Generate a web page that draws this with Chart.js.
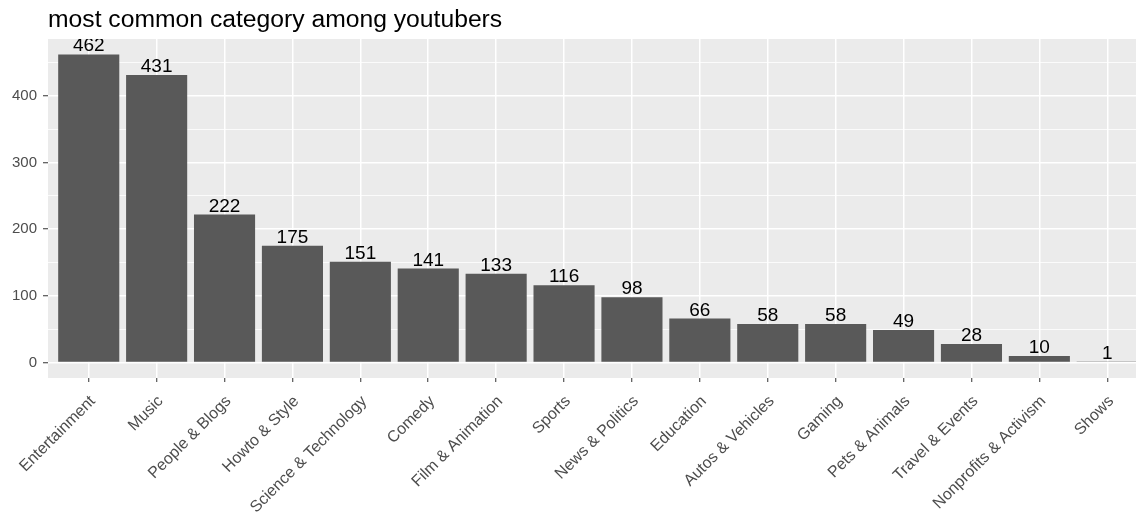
<!DOCTYPE html>
<html lang="en">
<head>
    <meta charset="UTF-8">
    <title>most common category among youtubers</title>
    <script src="https://cdn.jsdelivr.net/npm/chart.js"></script>
    <style>
        html, body {
            margin: 0;
            padding: 0;
            background: #ffffff;
            overflow: hidden;
        }
        #wrap {
            width: 1148px;
            height: 520px;
        }
    </style>
</head>
<body>
    <div id="wrap">
        <canvas id="categoryChart" width="1148" height="520"></canvas>
    </div>

    <script>
        // data
        const categories = [
            'Entertainment', 'Music', 'People & Blogs', 'Howto & Style',
            'Science & Technology', 'Comedy', 'Film & Animation', 'Sports',
            'News & Politics', 'Education', 'Autos & Vehicles', 'Gaming',
            'Pets & Animals', 'Travel & Events', 'Nonprofits & Activism', 'Shows'
        ];
        const counts = [462, 431, 222, 175, 151, 141, 133, 116, 98, 66, 58, 58, 49, 28, 10, 1];
        const yTicks = [0, 100, 200, 300, 400];
        const yMinorTicks = [50, 150, 250, 350, 450];
        const chartTitle = 'most common category among youtubers';

        const FONT = '"Liberation Sans", Arial, sans-serif';

        // grey panel like ggplot's theme_grey, plus the title
        const panelBg = {
            id: 'panelBg',
            beforeDraw(chart) {
                const { ctx, chartArea: a } = chart;
                ctx.save();
                ctx.fillStyle = '#ebebeb';
                ctx.fillRect(a.left, a.top, a.right - a.left, a.bottom - a.top);
                ctx.restore();
            },
            afterDraw(chart) {
                const ctx = chart.ctx;
                ctx.save();
                ctx.fillStyle = '#000000';
                ctx.font = '24.7px ' + FONT;
                ctx.textBaseline = 'alphabetic';
                ctx.fillText(chartTitle, chart.chartArea.left, 27);
                ctx.restore();
            }
        };

        // count labels above the bars, clipped to the panel
        const barLabels = {
            id: 'barLabels',
            afterDatasetsDraw(chart) {
                const { ctx, chartArea: a } = chart;
                const meta = chart.getDatasetMeta(0);
                ctx.save();
                ctx.beginPath();
                ctx.rect(a.left, a.top, a.right - a.left, a.bottom - a.top);
                ctx.clip();
                ctx.fillStyle = '#000000';
                ctx.font = '19px ' + FONT;
                ctx.textAlign = 'center';
                ctx.textBaseline = 'alphabetic';
                meta.data.forEach((bar, i) => {
                    ctx.fillText(String(counts[i]), bar.x, bar.y - 3);
                });
                ctx.restore();
            }
        };

        const isMajorY = v => yTicks.includes(v);

        new Chart(document.getElementById('categoryChart'), {
            type: 'bar',
            data: {
                datasets: [{
                    data: counts.map((v, i) => ({ x: i, y: v })),
                    backgroundColor: '#595959',
                    borderWidth: 0,
                    barPercentage: 0.9,
                    categoryPercentage: 1.0
                }]
            },
            options: {
                responsive: false,
                animation: false,
                layout: {
                    padding: { top: 39, left: 0, right: 0, bottom: 0 }
                },
                plugins: {
                    legend: { display: false },
                    tooltip: { enabled: false }
                },
                scales: {
                    x: {
                        type: 'linear',
                        offset: false,
                        min: -0.6,
                        max: 15.6,
                        afterBuildTicks(scale) {
                            scale.ticks = categories.map((c, i) => ({ value: i }));
                        },
                        afterFit(scale) {
                            scale.height = 142;
                        },
                        border: { display: false },
                        grid: {
                            offset: false,
                            color: '#ffffff',
                            lineWidth: 1.5,
                            tickColor: '#333333',
                            tickWidth: 1,
                            tickLength: 4
                        },
                        ticks: {
                            autoSkip: false,
                            minRotation: 45,
                            maxRotation: 45,
                            padding: 10,
                            labelOffset: 4,
                            color: '#4d4d4d',
                            font: { family: FONT, size: 16 },
                            callback: value => categories[value]
                        }
                    },
                    y: {
                        min: -23.1,
                        max: 485.1,
                        afterBuildTicks(scale) {
                            scale.ticks = yTicks.concat(yMinorTicks)
                                .sort((a, b) => a - b)
                                .map(v => ({ value: v }));
                        },
                        afterFit(scale) {
                            scale.width = 48;
                        },
                        border: { display: false },
                        grid: {
                            color: '#ffffff',
                            lineWidth: ctx => isMajorY(ctx.tick && ctx.tick.value) ? 1.5 : 0.8,
                            tickColor: '#333333',
                            tickWidth: ctx => isMajorY(ctx.tick && ctx.tick.value) ? 1 : 0,
                            tickLength: 5
                        },
                        ticks: {
                            padding: 6,
                            color: '#4d4d4d',
                            font: { family: FONT, size: 15 },
                            callback: value => isMajorY(value) ? String(value) : ''
                        }
                    }
                }
            },
            plugins: [panelBg, barLabels]
        });
    </script>
</body>
</html>
